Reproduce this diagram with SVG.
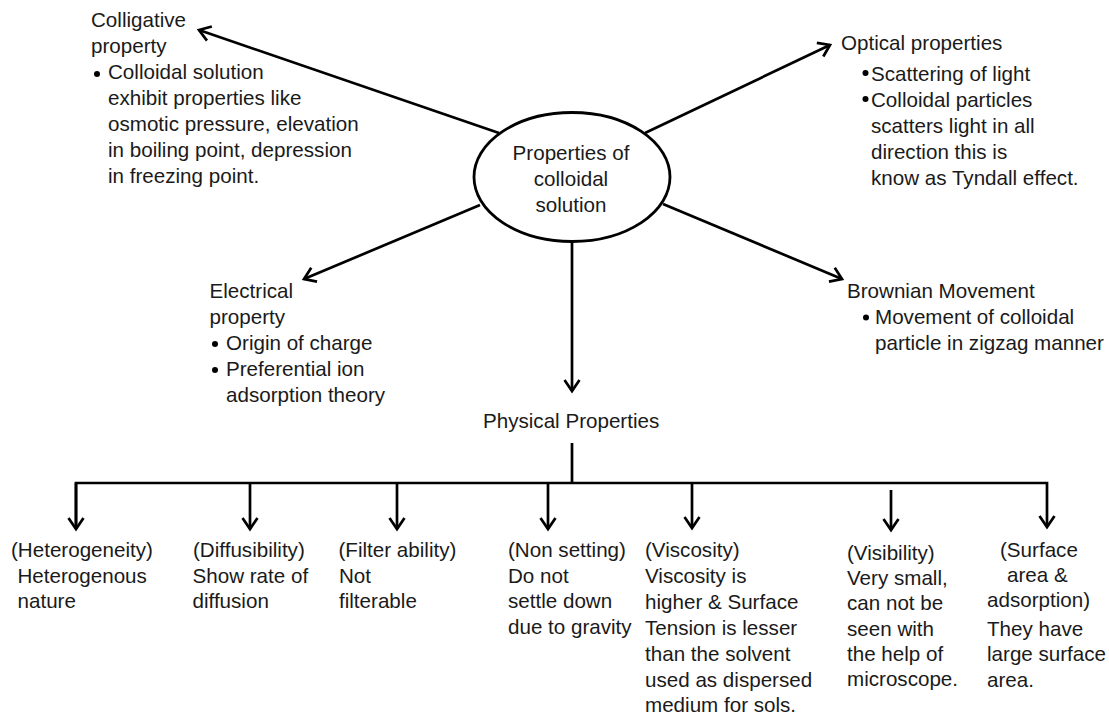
<svg xmlns="http://www.w3.org/2000/svg" width="1109" height="715" viewBox="0 0 1109 715">
<defs>
<style>
text { font-family: "Liberation Sans", Arial, sans-serif; font-size: 20.6px; fill: #1a1a1a; }
.c { text-anchor: middle; }
.ln { stroke: #000; stroke-width: 2.7; fill: none; }
.bul { fill: #000; }
</style>
<marker id="arr" viewBox="-14 -10 18 20" markerWidth="18" markerHeight="20" refX="0" refY="0" orient="auto" markerUnits="userSpaceOnUse">
<path d="M-11,-7.5 L0,0 L-11,7.5" fill="none" stroke="#000" stroke-width="2.7"/>
</marker>
</defs>
<rect width="1109" height="715" fill="#fff"/>

<g id="connectors">
<line class="ln" x1="499" y1="133" x2="199" y2="30" marker-end="url(#arr)"/>
<line class="ln" x1="645" y1="133" x2="830" y2="45" marker-end="url(#arr)"/>
<line class="ln" x1="480" y1="205" x2="304" y2="279" marker-end="url(#arr)"/>
<line class="ln" x1="663" y1="204" x2="842" y2="279" marker-end="url(#arr)"/>
<line class="ln" x1="572" y1="242" x2="572" y2="391" marker-end="url(#arr)"/>
<line class="ln" x1="572" y1="443" x2="572" y2="483"/>
<polyline class="ln" points="76,529 76,483 1047,483 1047,527" marker-end="url(#arr)"/>
<line class="ln" x1="76" y1="483" x2="76" y2="529" marker-end="url(#arr)"/>
<line class="ln" x1="250" y1="483" x2="250" y2="529" marker-end="url(#arr)"/>
<line class="ln" x1="397" y1="483" x2="397" y2="529" marker-end="url(#arr)"/>
<line class="ln" x1="548" y1="483" x2="548" y2="529" marker-end="url(#arr)"/>
<line class="ln" x1="692" y1="483" x2="692" y2="528" marker-end="url(#arr)"/>
<line class="ln" x1="891" y1="490" x2="891" y2="530" marker-end="url(#arr)"/>
</g>

<g id="center">
<ellipse cx="572" cy="177" rx="98" ry="64.5" fill="#fff" stroke="#000" stroke-width="2.8"/>
<text class="c" x="571" y="160">Properties of</text>
<text class="c" x="571" y="186">colloidal</text>
<text class="c" x="571" y="212">solution</text>
</g>

<g id="colligative">
<text x="91" y="27">Colligative</text>
<text x="91" y="53">property</text>
<circle class="bul" cx="97" cy="74" r="3"/>
<text x="108" y="79">Colloidal solution</text>
<text x="108" y="105">exhibit properties like</text>
<text x="108" y="131">osmotic pressure, elevation</text>
<text x="108" y="157">in boiling point, depression</text>
<text x="108" y="183">in freezing point.</text>
</g>

<g id="optical">
<text x="841" y="50">Optical properties</text>
<circle class="bul" cx="865.5" cy="73" r="3"/>
<text x="871" y="80.5">Scattering of light</text>
<circle class="bul" cx="865.5" cy="99" r="3"/>
<text x="871" y="107">Colloidal particles</text>
<text x="871" y="133">scatters light in all</text>
<text x="871" y="159">direction this is</text>
<text x="871" y="185">know as Tyndall effect.</text>
</g>

<g id="electrical">
<text x="209.5" y="298">Electrical</text>
<text x="209.5" y="324">property</text>
<circle class="bul" cx="215" cy="344" r="3"/>
<text x="226" y="350">Origin of charge</text>
<circle class="bul" cx="215" cy="370" r="3"/>
<text x="226" y="376">Preferential ion</text>
<text x="226" y="402">adsorption theory</text>
</g>

<g id="brownian">
<text x="847" y="298">Brownian Movement</text>
<circle class="bul" cx="866" cy="317.5" r="3"/>
<text x="875" y="323.5">Movement of colloidal</text>
<text x="875" y="349.5">particle in zigzag manner</text>
</g>

<g id="physical">
<text x="483" y="428">Physical Properties</text>
</g>

<g id="heterogeneity">
<text x="11" y="557">(Heterogeneity)</text>
<text x="17.5" y="583">Heterogenous</text>
<text x="17.5" y="608">nature</text>
</g>

<g id="diffusibility">
<text x="193" y="557">(Diffusibility)</text>
<text x="192.5" y="583">Show rate of</text>
<text x="192.5" y="608">diffusion</text>
</g>

<g id="filter">
<text x="338.5" y="557">(Filter ability)</text>
<text x="339" y="583">Not</text>
<text x="339" y="608">filterable</text>
</g>

<g id="nonsetting">
<text x="508" y="557">(Non setting)</text>
<text x="508" y="583">Do not</text>
<text x="508" y="608">settle down</text>
<text x="508" y="634">due to gravity</text>
</g>

<g id="viscosity">
<text x="645" y="557">(Viscosity)</text>
<text x="645" y="583">Viscosity is</text>
<text x="645" y="609">higher &amp; Surface</text>
<text x="645" y="635">Tension is lesser</text>
<text x="645" y="661">than the solvent</text>
<text x="645" y="687">used as dispersed</text>
<text x="645" y="712">medium for sols.</text>
</g>

<g id="visibility">
<text x="847" y="560">(Visibility)</text>
<text x="847" y="585">Very small,</text>
<text x="847" y="610">can not be</text>
<text x="847" y="636">seen with</text>
<text x="847" y="661">the help of</text>
<text x="847" y="686">microscope.</text>
</g>

<g id="surface">
<text x="1000" y="557">(Surface</text>
<text x="1007" y="582">area &amp;</text>
<text x="987" y="607">adsorption)</text>
<text x="987" y="636">They have</text>
<text x="987" y="661">large surface</text>
<text x="987" y="687">area.</text>
</g>
</svg>
